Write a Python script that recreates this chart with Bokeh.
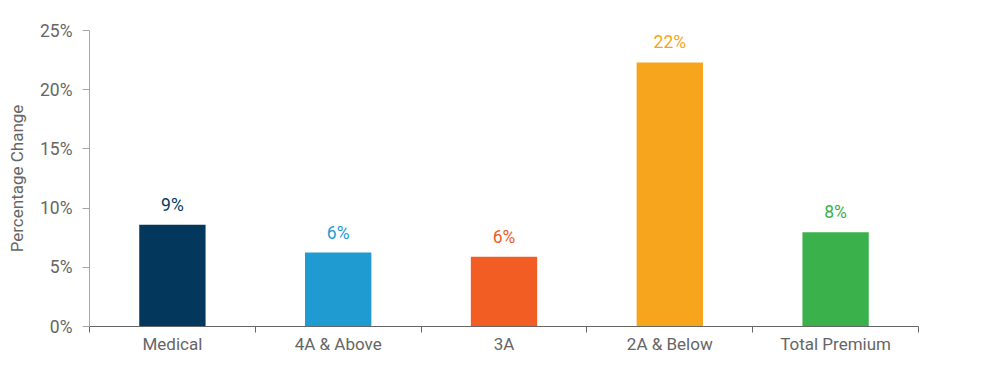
from bokeh.plotting import figure
from bokeh.models import ColumnDataSource, FixedTicker, PrintfTickFormatter, Range1d
from bokeh.core.properties import value
from bokeh.embed import file_html
from bokeh.resources import INLINE

categories = ["Medical", "4A & Above", "3A", "2A & Below", "Total Premium"]
values = [8.6, 6.25, 5.9, 22.3, 7.95]
labels = ["9%", "6%", "6%", "22%", "8%"]
colors = ["#03385C", "#1F9BD1", "#F15D22", "#F7A51C", "#3AB14A"]

xs = [i + 0.5 for i in range(len(categories))]
src = ColumnDataSource(dict(x=xs, top=values, label=labels, color=colors))

FONT = "Roboto"
p = figure(width=984, height=374, output_backend="svg", toolbar_location=None,
           x_range=Range1d(0, len(categories)), y_range=Range1d(0, 25),
           min_border_left=89, min_border_right=66, min_border_top=30, min_border_bottom=48)
p.outline_line_color = None
p.xgrid.visible = False
p.ygrid.visible = False

p.vbar(x="x", top="top", width=0.4, color="color", line_color=None, source=src)
p.text(x="x", y="top", text="label", text_color="color", source=src,
       text_align="center", text_baseline="bottom", y_offset=-10,
       text_font=value(FONT), text_font_size="17.5px")

xa = p.xaxis[0]
xa.ticker = FixedTicker(ticks=xs, minor_ticks=list(range(len(categories) + 1)))
xa.major_label_overrides = {x: c for x, c in zip(xs, categories)}
xa.major_tick_out = 0
xa.major_tick_in = 0
xa.minor_tick_out = 6
xa.minor_tick_in = 0
xa.minor_tick_line_color = "#666666"
xa.axis_line_color = "#666666"
xa.major_label_text_font = FONT
xa.major_label_text_font_size = "17px"
xa.major_label_text_color = "#666666"
xa.major_label_standoff = 1

ya = p.yaxis[0]
ya.ticker = FixedTicker(ticks=[0, 5, 10, 15, 20, 25], minor_ticks=[])
ya.formatter = PrintfTickFormatter(format="%d%%")
ya.axis_line_color = "#A6A6A6"
ya.major_tick_line_color = "#A6A6A6"
ya.major_tick_out = 7
ya.major_tick_in = 0
ya.minor_tick_out = 0
ya.minor_tick_in = 0
ya.major_label_text_font = FONT
ya.major_label_text_font_size = "17.5px"
ya.major_label_text_color = "#666666"
ya.major_label_standoff = 10
ya.axis_label = "Percentage Change"
ya.axis_label_text_font = FONT
ya.axis_label_text_font_style = "normal"
ya.axis_label_text_font_size = "17px"
ya.axis_label_text_color = "#666666"
ya.axis_label_standoff = 10

open("out.html", "w").write(file_html(p, INLINE))
